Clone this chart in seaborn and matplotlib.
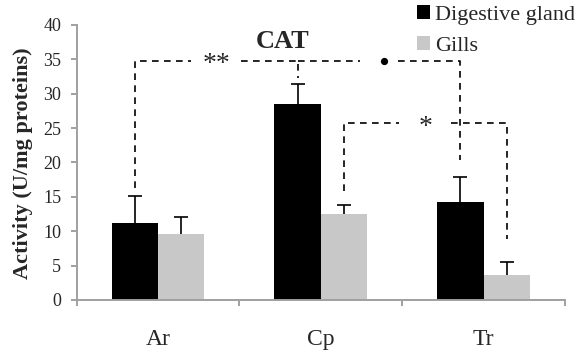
import pandas as pd
import matplotlib
matplotlib.use("Agg")
import matplotlib.pyplot as plt
import seaborn as sns

# data
sites = ["Ar", "Cp", "Tr"]
tissues = ["Digestive gland", "Gills"]
dg_activity = [11.2, 28.5, 14.3]
dg_err = [3.9, 2.9, 3.55]
gills_activity = [9.6, 12.45, 3.6]
gills_err = [2.5, 1.35, 1.95]

# significance brackets: (site, tissue) left, (site, tissue) right,
# left foot, top, right foot, label, half gap around the label
brackets = [
    (("Ar", "Digestive gland"), ("Cp", "Digestive gland"), 16.3, 34.8, 32.3, "**", 0.155),
    (("Cp", "Digestive gland"), ("Tr", "Digestive gland"), 34.8, 34.8, 20.4, "•", 0.115),
    (("Cp", "Gills"), ("Tr", "Gills"), 15.8, 25.7, 8.9, "*", 0.16),
]

df = pd.DataFrame({
    "site": sites * 2,
    "tissue": [tissues[0]] * 3 + [tissues[1]] * 3,
    "activity": dg_activity + gills_activity,
    "err": dg_err + gills_err,
})

sns.set_style("white")
plt.rcParams["font.family"] = ["Liberation Serif", "DejaVu Serif"]

fig = plt.figure(figsize=(5.81, 3.6), dpi=100)
ax = fig.add_axes([0.1317, 0.1667, 0.8408, 0.7639])

sns.barplot(data=df, x="site", y="activity", hue="tissue", order=sites,
            hue_order=tissues, palette=["#000000", "#c8c8c8"], width=0.57,
            saturation=1, errorbar=None, linewidth=0, ax=ax)

# bar centres, taken from the drawn bars
centres = {}
for tissue, cont in zip(tissues, ax.containers):
    for bar in cont:
        xc = bar.get_x() + bar.get_width() / 2
        centres[(sites[int(round(xc))], tissue)] = (xc, bar.get_height())

# upper error bars only
for _, row in df.iterrows():
    xc, h = centres[(row["site"], row["tissue"])]
    eb = ax.errorbar(xc, h, yerr=[[0], [row["err"]]], fmt="none", ecolor="black",
                     elinewidth=1.2, capsize=4.7, capthick=1.2, zorder=3)
    eb[1][0].set_visible(False)

# dashed brackets with a gap for the label
dash = (0, (4, 3.2))
for left, right, y1, ytop, y2, label, half in brackets:
    x1 = centres[left][0]
    x2 = centres[right][0]
    xm = (x1 + x2) / 2
    ax.plot([x1, x1, xm - half], [y1, ytop, ytop], color="black", lw=1.2,
            linestyle=dash, zorder=4)
    ax.plot([xm + half, x2, x2], [ytop, ytop, y2], color="black", lw=1.2,
            linestyle=dash, zorder=4)
    if label == "•":
        ax.plot(xm + 0.03, ytop, "o", color="black", ms=4.2, zorder=5)
    else:
        ax.text(xm, ytop - 1.5, label, ha="center", va="baseline",
                fontsize=20, zorder=5)

ax.set_xlim(-0.5, 2.5)
ax.set_ylim(0, 40)
ax.set_yticks(range(0, 41, 5))
ax.set_xlabel("")
ax.set_ylabel("")

for side in ["top", "right"]:
    ax.spines[side].set_visible(False)
for side in ["left", "bottom"]:
    ax.spines[side].set_color("#a0a0a0")
    ax.spines[side].set_linewidth(1.4)

ax.set_xticks([-0.5, 0.5, 1.5, 2.5], minor=True)
ax.tick_params(axis="x", which="major", length=0, pad=21, labelsize=17)
ax.tick_params(axis="x", which="minor", length=4, width=1.4, color="#a0a0a0",
               direction="out", bottom=True)
ax.tick_params(axis="y", length=4, width=1.4, color="#a0a0a0",
               direction="out", left=True, pad=7, labelsize=13)

fig.text(23 / 581, 1 - 163.5 / 360, "Activity (U/mg proteins)", rotation=90,
         ha="center", va="center", fontsize=16, fontweight="bold")
fig.text(283 / 581, 1 - 48 / 360, "CAT", ha="center", va="baseline",
         fontsize=19, fontweight="bold")

sns.move_legend(ax, "upper left", bbox_to_anchor=(417 / 581, 1 - 5 / 360),
                bbox_transform=fig.transFigure, title=None, frameon=False,
                fontsize=16, handlelength=0.6, handleheight=0.6,
                handletextpad=0.2, labelspacing=0.5, borderpad=0,
                borderaxespad=0)

fig.savefig("out.png", dpi=100)
